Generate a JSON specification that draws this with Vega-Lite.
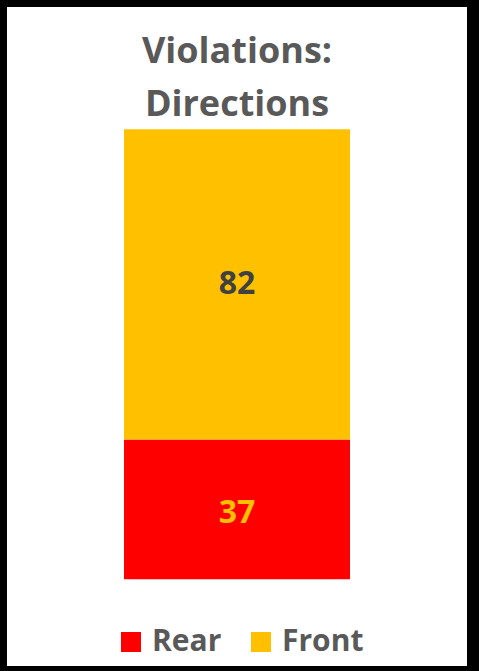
{
  "$schema": "https://vega.github.io/schema/vega-lite/v6.json",
  "width": 460,
  "height": 659,
  "autosize": {"type": "none"},
  "padding": {"left": 7, "top": 7, "right": 12, "bottom": 5},
  "background": "#000000",
  "config": {
    "view": {"fill": "#FFFFFF", "stroke": null},
    "font": "Open Sans"
  },
  "title": {
    "text": ["Violations:", "Directions"],
    "orient": "top",
    "anchor": "middle",
    "frame": "group",
    "offset": -145,
    "baseline": "alphabetic",
    "fontSize": 36,
    "lineHeight": 53,
    "fontWeight": "bold",
    "color": "#595959",
    "font": "Open Sans"
  },
  "data": {
    "values": [
      {"Group": "Directions", "Direction": "Rear", "Count": 37, "order": 1},
      {"Group": "Directions", "Direction": "Front", "Count": 82, "order": 2}
    ]
  },
  "transform": [
    {"stack": "Count", "groupby": ["Group"], "sort": [{"field": "order"}], "as": ["start", "end"]}
  ],
  "layer": [
    {
      "mark": {"type": "bar", "size": 226},
      "encoding": {
        "x": {"field": "Group", "type": "nominal", "axis": null},
        "y": {"field": "start", "type": "quantitative", "axis": null, "scale": {"domain": [-22.93, 151.34], "nice": false, "zero": false}},
        "y2": {"field": "end"},
        "color": {
          "field": "Direction",
          "type": "nominal",
          "scale": {"domain": ["Rear", "Front"], "range": ["#FF0000", "#FFC000"]},
          "legend": {
            "orient": "none",
            "legendX": 109,
            "legendY": 620,
            "direction": "horizontal",
            "title": null,
            "symbolType": "square",
            "symbolSize": 400,
            "symbolStrokeWidth": 0,
            "labelFontSize": 30,
            "labelFontWeight": "bold",
            "labelColor": "#595959",
            "labelFont": "Open Sans",
            "labelOffset": 6,
            "columnPadding": 24
          }
        }
      }
    },
    {
      "transform": [{"filter": "datum.Direction === 'Front'"}],
      "mark": {"type": "text", "fontSize": 32, "fontWeight": "bold", "font": "Open Sans", "baseline": "middle", "align": "center", "dy": 155, "color": "#404040"},
      "encoding": {
        "x": {"field": "Group", "type": "nominal", "axis": null},
        "y": {"field": "end", "type": "quantitative"},
        "text": {"field": "Count", "type": "quantitative"}
      }
    },
    {
      "transform": [{"filter": "datum.Direction === 'Rear'"}],
      "mark": {"type": "text", "fontSize": 32, "fontWeight": "bold", "font": "Open Sans", "baseline": "middle", "align": "center", "dy": 74, "color": "#FFC000"},
      "encoding": {
        "x": {"field": "Group", "type": "nominal", "axis": null},
        "y": {"field": "end", "type": "quantitative"},
        "text": {"field": "Count", "type": "quantitative"}
      }
    }
  ]
}
